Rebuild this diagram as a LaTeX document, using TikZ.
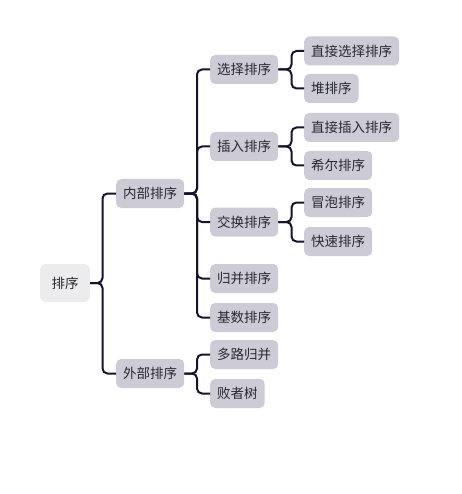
\documentclass[tikz,border=0pt]{standalone}
\usepackage{fontspec}
\setmainfont{Noto Sans CJK SC}
\begin{document}
\definecolor{boxfill}{RGB}{205,204,214}
\definecolor{rootfill}{RGB}{236,235,238}
\definecolor{linkcol}{RGB}{22,20,45}
\definecolor{txt}{RGB}{40,40,50}
\begin{tikzpicture}[x=1pt,y=-1pt,
  topic/.style={anchor=west,fill=boxfill,rounded corners=5pt,text=txt,
    font=\fontsize{13.5}{16}\selectfont,inner xsep=7pt,inner ysep=0pt,
    minimum height=29pt},
  rootbox/.style={fill=rootfill,rounded corners=6pt,text=txt,
    font=\fontsize{13.5}{16}\selectfont,minimum width=50pt,minimum height=38pt},
  link/.style={draw=linkcol,line width=2pt,rounded corners=5pt}]
\useasboundingbox (0,0) rectangle (461,494);
% root
\node[rootbox] (root) at (65,283) {排序};
% first level
\node[topic] (in)  at (116,193.5) {内部排序};
\node[topic] (out) at (116,373.5) {外部排序};
% internal sorting
\node[topic] (sel) at (210,69.5) {选择排序};
\node[topic] (ins) at (210,146.5) {插入排序};
\node[topic] (swp) at (210,222) {交换排序};
\node[topic] (mrg) at (210,278.5) {归并排序};
\node[topic] (rdx) at (210,317.5) {基数排序};
% external sorting
\node[topic] (mway) at (210,354.5) {多路归并};
\node[topic] (tree) at (210,393.5) {败者树};
% leaves
\node[topic] (dsel) at (304,51) {直接选择排序};
\node[topic] (heap) at (304,88.5) {堆排序};
\node[topic] (dins) at (304,127.5) {直接插入排序};
\node[topic] (shel) at (304,165.5) {希尔排序};
\node[topic] (bub)  at (304,202.5) {冒泡排序};
\node[topic] (qck)  at (304,241.5) {快速排序};
% connectors
\foreach \c in {in,out}
  \draw[link] (root.east) -- (102.5,283) |- (\c.west);
\foreach \c in {sel,ins,swp,mrg,rdx}
  \draw[link] (in.east) -- (197,193.5) |- (\c.west);
\foreach \c in {mway,tree}
  \draw[link] (out.east) -- (197,373.5) |- (\c.west);
\foreach \c in {dsel,heap}
  \draw[link] (sel.east) -- (291.5,69.5) |- (\c.west);
\foreach \c in {dins,shel}
  \draw[link] (ins.east) -- (291.5,146.5) |- (\c.west);
\foreach \c in {bub,qck}
  \draw[link] (swp.east) -- (291.5,222) |- (\c.west);
\end{tikzpicture}
\end{document}
